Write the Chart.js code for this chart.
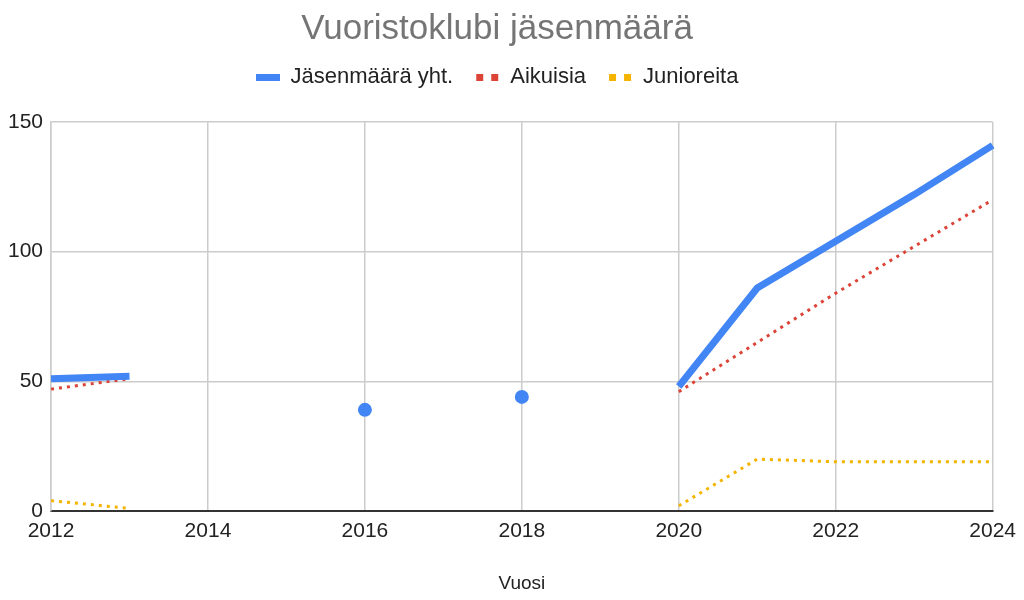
<!DOCTYPE html>
<html>
<head>
<meta charset="utf-8">
<script src="https://cdn.jsdelivr.net/npm/chart.js@4"></script>
<style>
  body { margin: 0; background: #fff; }
  #wrap { width: 1024px; height: 600px; }
</style>
</head>
<body>
<div id="wrap"><canvas id="myChart"></canvas></div>
<script>
var years = ["2012", "2013", "2014", "2015", "2016", "2017", "2018", "2019", "2020", "2021", "2022", "2023", "2024"];
var total = [51, 52, null, null, 39, null, 44, null, 48, 86, 104, 122, 141];
var adults = [47, 51, null, null, null, null, null, null, 46, 65, 84, 102, 120];
var juniors = [4, 1, null, null, null, null, null, null, 2, 20, 19, 19, 19];
var yTicks = [0, 50, 100, 150];

var FONT = "'Liberation Sans', Arial, sans-serif";

// small pictures for the legend keys
function legendIcon(color, dotted) {
  var c = document.createElement("canvas");
  c.width = 24; c.height = 7;
  var g = c.getContext("2d");
  g.fillStyle = color;
  if (dotted) {
    g.fillRect(1, 0, 7, 7);
    g.fillRect(16, 0, 7, 7);
  } else {
    g.fillRect(0, 0, 24, 7);
  }
  return c;
}
var icons = [legendIcon("#4285F4", false), legendIcon("#DB4437", true), legendIcon("#F4B400", true)];

function isolated(ctx) {
  var d = ctx.dataset.data, i = ctx.dataIndex;
  if (d[i] == null) return 0;
  var prev = i > 0 ? d[i - 1] : null;
  var next = i < d.length - 1 ? d[i + 1] : null;
  return (prev == null && next == null) ? 7 : 0;
}

// extra space under the legend, and title + legend centred a bit to the left
var headerTweak = {
  id: "headerTweak",
  beforeInit: function(chart) {
    var fit = chart.legend.fit;
    chart.legend.fit = function() {
      fit.bind(chart.legend)();
      this.height += 24;
    };
  },
  afterLayout: function(chart) {
    chart.titleBlock.right -= 24;
    chart.legend.right -= 24;
  }
};

function printChart() {
  var ctx = document.getElementById("myChart").getContext("2d");
  new Chart(ctx, {
    type: "line",
    data: {
      labels: years,
      datasets: [{
        label: "Jäsenmäärä yht.",
        data: total,
        borderColor: "#4285F4",
        backgroundColor: "#4285F4",
        borderWidth: 7,
        pointRadius: isolated,
        pointHoverRadius: isolated,
        pointBorderWidth: 0,
        pointStyle: "circle",
        spanGaps: false
      }, {
        label: "Aikuisia",
        data: adults,
        borderColor: "#DB4437",
        backgroundColor: "#DB4437",
        borderWidth: 3,
        borderDash: [3, 5],
        pointRadius: 0,
        spanGaps: false
      }, {
        label: "Junioreita",
        data: juniors,
        borderColor: "#F4B400",
        backgroundColor: "#F4B400",
        borderWidth: 3,
        borderDash: [3, 5],
        pointRadius: 0,
        spanGaps: false
      }]
    },
    plugins: [headerTweak],
    options: {
      responsive: true,
      maintainAspectRatio: false,
      animation: false,
      layout: { padding: { left: 0, right: 6, top: 4, bottom: 1 } },
      plugins: {
        title: {
          display: true,
          text: "Vuoristoklubi jäsenmäärä",
          color: "#757575",
          font: { family: FONT, size: 35, weight: "normal" },
          padding: { top: 4, bottom: -6 }
        },
        legend: {
          position: "top",
          labels: {
            usePointStyle: true,
            pointStyleWidth: 24,
            color: "#222",
            font: { family: FONT, size: 22 },
            padding: 22,
            boxHeight: 7,
            generateLabels: function(chart) {
              var items = Chart.defaults.plugins.legend.labels.generateLabels(chart);
              items.forEach(function(it, i) {
                it.pointStyle = icons[i];
                it.lineDash = [];
              });
              return items;
            }
          }
        },
        tooltip: { enabled: false }
      },
      scales: {
        x: {
          offset: false,
          grid: {
            color: function(c) { return c.index % 2 === 0 ? "#cccccc" : "rgba(0,0,0,0)"; },
            lineWidth: 1.5,
            drawTicks: false
          },
          border: { color: "#333", width: 2 },
          ticks: {
            autoSkip: false,
            maxRotation: 0,
            padding: 8,
            color: "#222",
            font: { family: FONT, size: 21 },
            callback: function(v, i) { return i % 2 === 0 ? years[i] : ""; }
          },
          title: {
            display: true,
            text: "Vuosi",
            color: "#222",
            font: { family: FONT, size: 19 },
            padding: { top: 20 }
          }
        },
        y: {
          min: 0,
          max: 150,
          afterBuildTicks: function(axis) {
            axis.ticks = yTicks.map(function(v) { return { value: v }; });
          },
          grid: { color: "#cccccc", lineWidth: 1.5, drawTicks: false },
          border: { color: "#cccccc", width: 1.5 },
          ticks: {
            padding: 8,
            color: "#222",
            font: { family: FONT, size: 21 }
          }
        }
      }
    }
  });
}

printChart();
</script>
</body>
</html>
